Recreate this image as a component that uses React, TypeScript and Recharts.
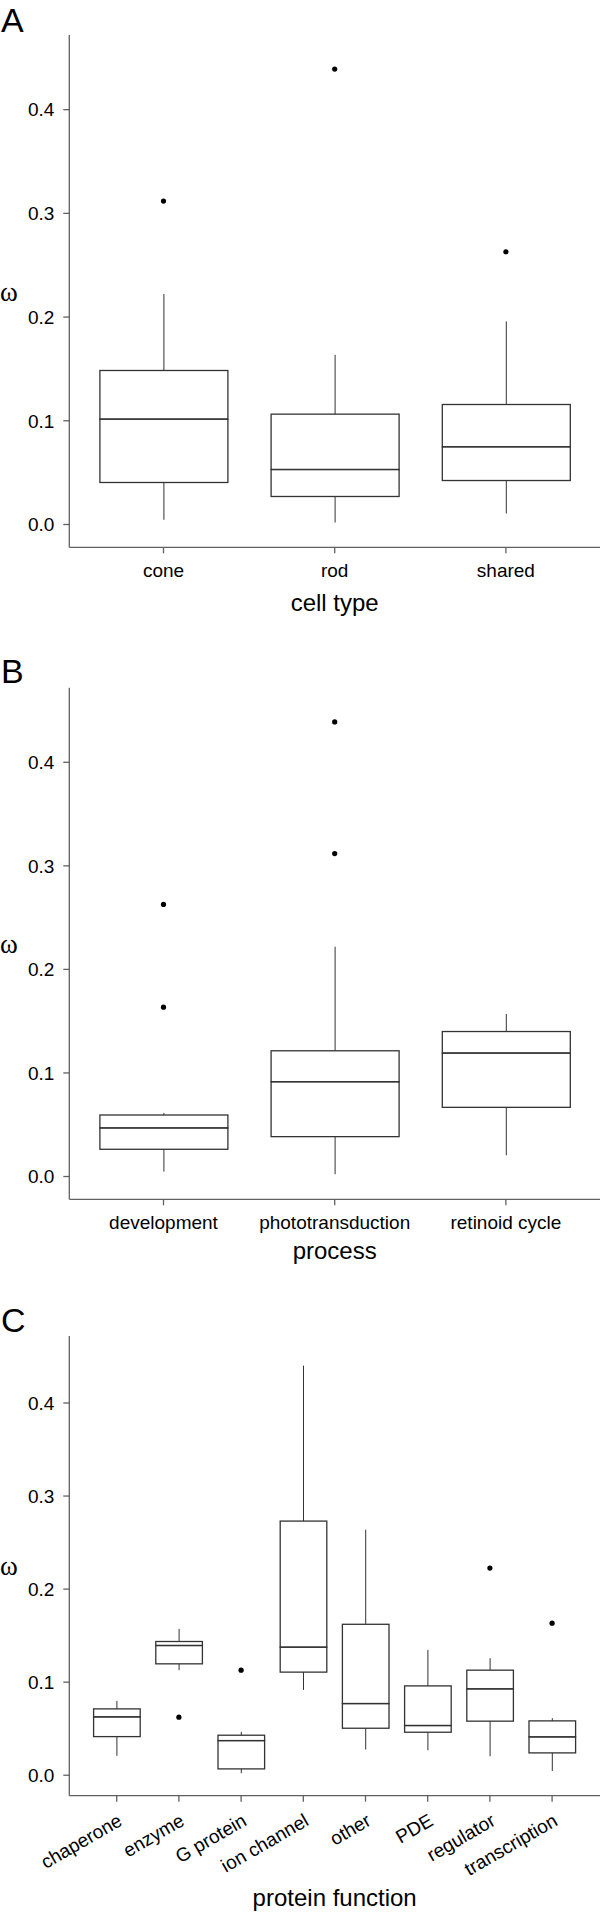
import React from 'react';
import { ComposedChart, Bar, Line, XAxis, YAxis } from 'recharts';

// panel A: cell type
const cellTypes = ['cone', 'rod', 'shared'];
const cellMin = [0.0045, 0.0019, 0.0106];
const cellQ1 = [0.0405, 0.027, 0.0424];
const cellMedian = [0.1016, 0.053, 0.0749];
const cellQ3 = [0.1485, 0.1064, 0.1157];
const cellMax = [0.2222, 0.1636, 0.1958];
const cellOutliers = [[0.3119], [0.4391], [0.263]];

// panel B: process
const processes = ['development', 'phototransduction', 'retinoid cycle'];
const procMin = [0.0048, 0.0022, 0.0205];
const procQ1 = [0.0263, 0.0385, 0.0668];
const procMedian = [0.0469, 0.0915, 0.1192];
const procQ3 = [0.0594, 0.1214, 0.14];
const procMax = [0.0613, 0.2219, 0.157];
const procOutliers = [[0.2627, 0.1635], [0.439, 0.3118], []];

// panel C: protein function
const functions = ['chaperone', 'enzyme', 'G protein', 'ion channel', 'other', 'PDE', 'regulator', 'transcription'];
const funcMin = [0.0208, 0.1129, 0.0021, 0.0917, 0.0276, 0.0269, 0.0204, 0.0046];
const funcQ1 = [0.0415, 0.1197, 0.0068, 0.1108, 0.0505, 0.0462, 0.0581, 0.024];
const funcMedian = [0.0627, 0.1394, 0.0372, 0.1376, 0.077, 0.0534, 0.0928, 0.0412];
const funcQ3 = [0.0713, 0.1437, 0.043, 0.2731, 0.1622, 0.096, 0.1129, 0.0584];
const funcMax = [0.0799, 0.1573, 0.0466, 0.4401, 0.2638, 0.1347, 0.1258, 0.0613];
const funcOutliers = [[], [0.0624], [0.1129], [], [], [], [0.2226], [0.1634]];

const yTicks = [0, 0.1, 0.2, 0.3, 0.4];

const SANS = '"Liberation Sans", Arial, Helvetica, sans-serif';
const SERIF = '"Liberation Serif", "DejaVu Serif", serif';
const INK = '#333333';
const AXIS = '#606060';

function buildRows(
  names: string[],
  min: number[],
  q1: number[],
  median: number[],
  q3: number[],
  max: number[],
  outliers: number[][]
) {
  return names.map((name, i) => ({
    name,
    base: min[i],
    lowWhisker: q1[i] - min[i],
    lowBox: median[i] - q1[i],
    highBox: q3[i] - median[i],
    highWhisker: max[i] - q3[i],
    out1: outliers[i][0] ?? null,
    out2: outliers[i][1] ?? null,
  }));
}

const Whisker = (props: any) => {
  const { x, y, width, height } = props;
  const cx = x + width / 2;
  return <line x1={cx} x2={cx} y1={y} y2={y + height} stroke={INK} strokeWidth={1} />;
};

const BoxPart = (props: any) => {
  const { x, y, width, height } = props;
  const top = Math.min(y, y + height);
  return (
    <rect x={x} y={top} width={width} height={Math.abs(height)} fill="none" stroke={INK} strokeWidth={1.3} />
  );
};

const Empty = () => <g />;

const SlantTick = (props: any) => {
  const { x, y, payload } = props;
  return (
    <text
      x={x}
      y={y}
      dy="0.71em"
      textAnchor="end"
      transform={`rotate(-30, ${x}, ${y})`}
      fill="#000"
      fontSize={19}
      fontFamily={SANS}
    >
      {payload.value}
    </text>
  );
};

interface PanelProps {
  rows: ReturnType<typeof buildRows>;
  top: number;
  height: number;
  marginTop: number;
  axisHeight: number;
  barSize: number;
  padding: { left: number; right: number };
  title: string;
  titleOffset: number;
  slanted?: boolean;
}

function BoxPanel({ rows, top, height, marginTop, axisHeight, barSize, padding, title, titleOffset, slanted }: PanelProps) {
  return (
    <div style={{ position: 'absolute', left: 0, top }}>
      <ComposedChart
        width={600}
        height={height}
        data={rows}
        margin={{ top: marginTop, right: 0, bottom: 0, left: 0 }}
        barSize={barSize}
      >
        <XAxis
          dataKey="name"
          interval={0}
          height={axisHeight}
          padding={padding}
          axisLine={{ stroke: AXIS, strokeWidth: 1.3 }}
          tickLine={{ stroke: AXIS, strokeWidth: 1.3 }}
          tickSize={6}
          tickMargin={slanted ? 11 : 10}
          tick={slanted ? <SlantTick /> : { fill: '#000', fontSize: 19, fontFamily: SANS }}
          label={{
            value: title,
            position: 'insideBottom',
            offset: titleOffset,
            style: { fill: '#000', fontSize: 24, fontFamily: SANS },
          }}
        />
        <YAxis
          width={69.3}
          domain={[-0.022, 0.472]}
          ticks={yTicks}
          allowDataOverflow
          tickFormatter={(v: number) => v.toFixed(1)}
          axisLine={{ stroke: AXIS, strokeWidth: 1.3 }}
          tickLine={{ stroke: AXIS, strokeWidth: 1.3 }}
          tickSize={6}
          tickMargin={9}
          tick={{ fill: '#000', fontSize: 19, fontFamily: SANS }}
          label={{
            value: 'ω',
            position: 'insideLeft',
            offset: 0,
            style: { fill: '#000', fontSize: 27, fontFamily: SERIF },
          }}
        />
        <Bar dataKey="base" stackId="box" shape={<Empty />} isAnimationActive={false} />
        <Bar dataKey="lowWhisker" stackId="box" shape={<Whisker />} isAnimationActive={false} />
        <Bar dataKey="lowBox" stackId="box" shape={<BoxPart />} isAnimationActive={false} />
        <Bar dataKey="highBox" stackId="box" shape={<BoxPart />} isAnimationActive={false} />
        <Bar dataKey="highWhisker" stackId="box" shape={<Whisker />} isAnimationActive={false} />
        <Line
          dataKey="out1"
          stroke="none"
          dot={{ r: 2.6, fill: '#000', stroke: 'none' }}
          activeDot={false}
          isAnimationActive={false}
        />
        <Line
          dataKey="out2"
          stroke="none"
          dot={{ r: 2.6, fill: '#000', stroke: 'none' }}
          activeDot={false}
          isAnimationActive={false}
        />
      </ComposedChart>
    </div>
  );
}

const letterStyle: React.CSSProperties = {
  position: 'absolute',
  left: 1,
  fontFamily: SANS,
  fontSize: 34,
  lineHeight: '34px',
  color: '#000',
};

export default function App() {
  const rowsA = buildRows(cellTypes, cellMin, cellQ1, cellMedian, cellQ3, cellMax, cellOutliers);
  const rowsB = buildRows(processes, procMin, procQ1, procMedian, procQ3, procMax, procOutliers);
  const rowsC = buildRows(functions, funcMin, funcQ1, funcMedian, funcQ3, funcMax, funcOutliers);

  return (
    <div
      style={{
        position: 'absolute',
        left: 0,
        top: 0,
        width: 600,
        height: 1912,
        background: '#fff',
        overflow: 'hidden',
      }}
    >
      <div style={{ ...letterStyle, top: 3 }}>A</div>
      <div style={{ ...letterStyle, top: 654 }}>B</div>
      <div style={{ ...letterStyle, top: 1303 }}>C</div>

      <BoxPanel
        rows={rowsA}
        top={0}
        height={630}
        marginTop={35}
        axisHeight={82.7}
        barSize={128}
        padding={{ left: 8.6, right: 8.5 }}
        title="cell type"
        titleOffset={19.3}
      />
      <BoxPanel
        rows={rowsB}
        top={640}
        height={640}
        marginTop={47.7}
        axisHeight={80.7}
        barSize={128}
        padding={{ left: 8.6, right: 8.5 }}
        title="process"
        titleOffset={21.5}
      />
      <BoxPanel
        rows={rowsC}
        top={1290}
        height={622}
        marginTop={46}
        axisHeight={116.3}
        barSize={46.6}
        padding={{ left: 16.3, right: 16.8 }}
        title="protein function"
        titleOffset={6}
        slanted
      />
    </div>
  );
}
